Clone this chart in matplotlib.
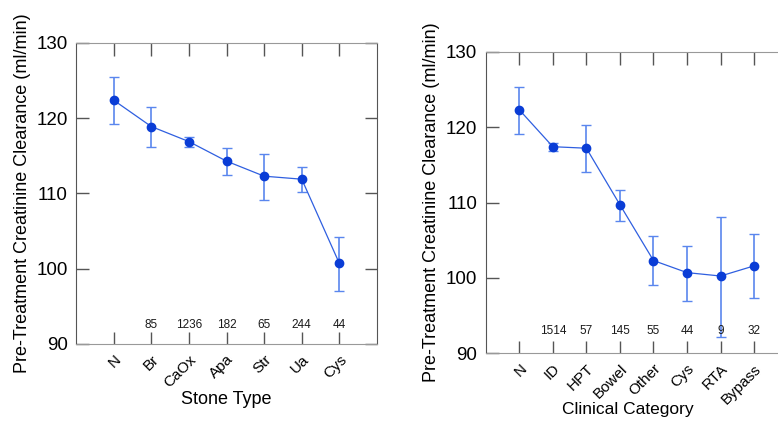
import matplotlib
matplotlib.use("Agg")
import matplotlib.pyplot as plt
import numpy as np

plt.rcParams['font.family'] = ['Liberation Sans', 'DejaVu Sans']

# left panel: stone type
stone_types = ['N', 'Br', 'CaOx', 'Apa', 'Str', 'Ua', 'Cys']
stone_mean = [122.4, 118.9, 116.9, 114.3, 112.3, 111.9, 100.7]
stone_upper = [125.5, 121.5, 117.5, 116.1, 115.3, 113.5, 104.2]
stone_lower = [119.2, 116.2, 116.2, 112.4, 109.2, 110.2, 97.0]
stone_n = ['', '85', '1236', '182', '65', '244', '44']

# right panel: clinical category
clin_cats = ['N', 'ID', 'HPT', 'Bowel', 'Other', 'Cys', 'RTA', 'Bypass']
clin_mean = [122.3, 117.4, 117.2, 109.7, 102.3, 100.7, 100.25, 101.6]
clin_upper = [125.3, 117.9, 120.3, 111.7, 105.5, 104.2, 108.1, 105.8]
clin_lower = [119.1, 116.8, 114.0, 107.6, 99.0, 97.0, 92.2, 97.3]
clin_n = ['', '1514', '57', '145', '55', '44', '9', '32']

LINE_C = '#2f5fe0'
MARK_C = '#0a3dd6'
ERR_C = '#5a86ee'


def draw_panel(ax, cats, mean, upper, lower, counts, count_y, xlabel, right_ticks=True):
    x = np.arange(1, len(cats) + 1)
    mean = np.array(mean)
    yerr = [mean - np.array(lower), np.array(upper) - mean]
    ax.errorbar(x, mean, yerr=yerr, fmt='none', ecolor=ERR_C, elinewidth=1.2,
                capsize=3.5, capthick=1.0, zorder=2)
    ax.plot(x, mean, color=LINE_C, linewidth=0.9, zorder=3)
    ax.plot(x, mean, 'o', color=MARK_C, markersize=6, zorder=4)
    for xi, c in zip(x, counts):
        ax.text(xi, count_y, c, ha='center', va='center', fontsize=8.5, color='#1a1a1a')

    ax.set_xlim(0, len(cats) + 1)
    ax.set_ylim(90, 130)
    ax.set_yticks([90, 100, 110, 120, 130])
    ax.set_xticks(x)
    ax.set_xticklabels(cats, rotation=45, ha='right', rotation_mode='anchor', fontsize=11)
    ax.tick_params(axis='both', direction='in', length=9, width=1.0, color='#555555',
                   top=True, right=right_ticks)
    ax.tick_params(axis='y', labelsize=13.5, pad=6)
    ax.tick_params(axis='x', pad=6)
    for s in ['top', 'bottom']:
        ax.spines[s].set_color('#999999')
    for s in ['left', 'right']:
        ax.spines[s].set_color('#555555')
    ax.set_xlabel(xlabel, fontsize=13)
    ax.set_ylabel('Pre-Treatment Creatinine Clearance (ml/min)', fontsize=13)


fig = plt.figure(figsize=(7.78, 4.21), dpi=100)
ax1 = fig.add_axes([0.0977, 0.1829, 0.3869, 0.7150])
ax2 = fig.add_axes([0.6243, 0.1608, 0.3882, 0.7164])

draw_panel(ax1, stone_types, stone_mean, stone_upper, stone_lower, stone_n, 92.5, 'Stone Type')
draw_panel(ax2, clin_cats, clin_mean, clin_upper, clin_lower, clin_n, 93.0,
           'Clinical Category', right_ticks=False)

# x labels placed as in the original (right one sits right at the bottom edge)
ax1.xaxis.set_label_coords(0.5, -0.155)
ax2.xaxis.set_label_coords(0.47, -0.163)
ax2.xaxis.label.set_fontsize(12.5)

fig.savefig('out.png', dpi=100)
